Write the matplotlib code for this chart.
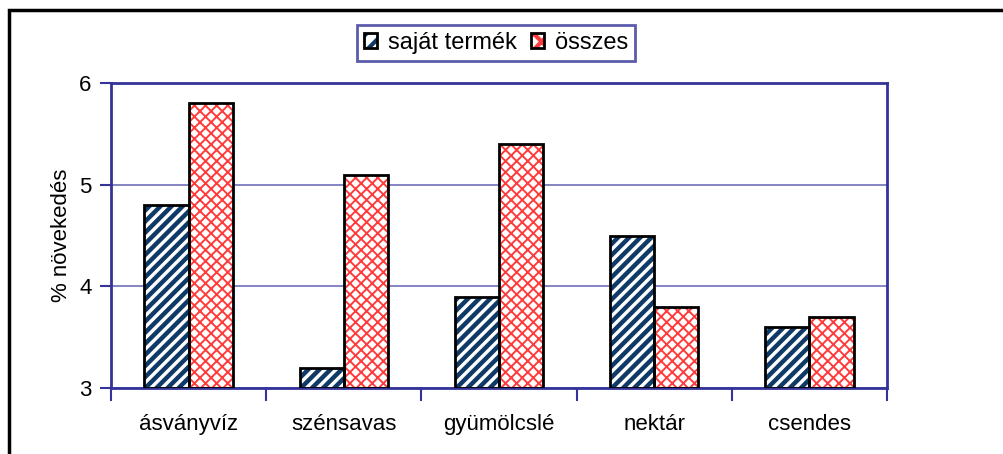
import numpy as np
import matplotlib.pyplot as plt
from matplotlib.patches import Rectangle, Patch

plt.rcParams['font.family'] = ['Liberation Sans', 'DejaVu Sans']
plt.rcParams['hatch.linewidth'] = 3.0

categories = ['ásványvíz', 'szénsavas', 'gyümölcslé', 'nektár', 'csendes']
sajat = [4.8, 3.2, 3.9, 4.5, 3.6]
osszes = [5.8, 5.1, 5.4, 3.8, 3.7]

navy = '#0f3a68'
red = '#ff3c3c'
axis_blue = '#333399'
fs = 16


def set_hlw(patches, lw):
    # per-patch hatch width, if this matplotlib has it
    for p in patches:
        if hasattr(p, 'set_hatch_linewidth'):
            p.set_hatch_linewidth(lw)


fig = plt.figure(figsize=(10.04, 4.54), dpi=100)
ax = fig.add_axes([111 / 1004, 1 - 388 / 454, 776 / 1004, 305 / 454])

x = np.arange(len(categories))
w = 0.285

# hatch fill first, then black outline on top
b1 = ax.bar(x - w / 2, np.array(sajat) - 3, w, bottom=3, color='white',
            edgecolor=navy, hatch='///', linewidth=0, zorder=2)
set_hlw(b1, 3.2)
ax.bar(x - w / 2, np.array(sajat) - 3, w, bottom=3, fill=False,
       edgecolor='black', linewidth=2, zorder=3)
b2 = ax.bar(x + w / 2, np.array(osszes) - 3, w, bottom=3, color='white',
            edgecolor=red, hatch='xxx', linewidth=0, zorder=2)
set_hlw(b2, 1.4)
ax.bar(x + w / 2, np.array(osszes) - 3, w, bottom=3, fill=False,
       edgecolor='black', linewidth=2, zorder=3)

ax.set_xlim(-0.5, len(categories) - 0.5)
ax.set_ylim(3, 6)
ax.set_yticks([3, 4, 5, 6])
ax.set_xticks(x)
ax.set_xticklabels(categories, fontsize=fs)
ax.set_xticks(np.arange(len(categories) + 1) - 0.5, minor=True)
ax.tick_params(axis='x', which='major', length=0, pad=19)
ax.tick_params(axis='x', which='minor', length=9, width=1.5, color=axis_blue)
ax.tick_params(axis='y', length=8, width=1.5, color=axis_blue, labelsize=fs, pad=6)
ax.set_ylabel('% növekedés', fontsize=fs, labelpad=5)

for s in ax.spines.values():
    s.set_color(axis_blue)
    s.set_linewidth(2)
ax.yaxis.grid(True, color='#7070b8', linewidth=1.2)
ax.set_axisbelow(True)

# legend keys: hatch patch with a black outline laid over it
h1 = (Patch(facecolor='white', edgecolor=navy, hatch='//', linewidth=0),
      Patch(fill=False, edgecolor='black', linewidth=2))
h2 = (Patch(facecolor='white', edgecolor=red, hatch='xx', linewidth=0),
      Patch(fill=False, edgecolor='black', linewidth=2))
leg = fig.legend([h1, h2], ['saját termék', 'összes'], loc='center',
                 bbox_to_anchor=(496 / 1004, 1 - 43 / 454), ncol=2,
                 fontsize=17, frameon=True, fancybox=False,
                 handlelength=0.55, handleheight=0.6, handletextpad=0.45,
                 columnspacing=0.6, borderpad=0.3, borderaxespad=0)
leg.get_frame().set_edgecolor(axis_blue)
leg.get_frame().set_linewidth(2)

# outer chart frame
fig.patches.append(Rectangle((9 / 1004, -0.05), 1.1, 1 - 10 / 454 + 0.05,
                             transform=fig.transFigure, fill=False,
                             edgecolor='black', linewidth=2.5))

fig.savefig('out.png', dpi=100)
